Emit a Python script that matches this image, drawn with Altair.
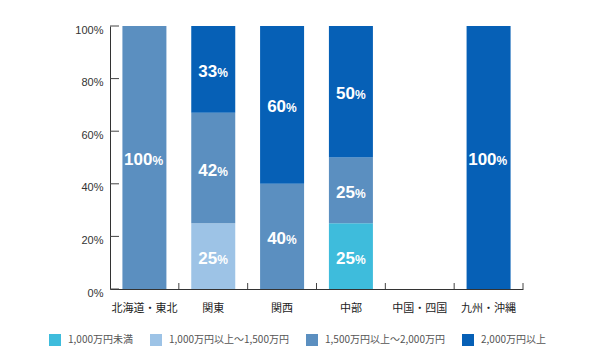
import altair as alt
import pandas as pd

regions = ["北海道・東北", "関東", "関西", "中部", "中国・四国", "九州・沖縄"]
series = ["1,000万円未満", "1,000万円以上～1,500万円", "1,500万円以上～2,000万円", "2,000万円以上"]
colors = ["#3EBCDC", "#9DC3E6", "#5B8FC0", "#0660B6"]

s_under1000 = [0, 0, 0, 25, 0, 0]
s_1000_1500 = [0, 25, 0, 0, 0, 0]
s_1500_2000 = [100, 42, 40, 25, 0, 0]
s_over2000 = [0, 33, 60, 50, 0, 100]

y_ticks = [0, 20, 40, 60, 80, 100]

rows = []
for k, (name, vals) in enumerate(zip(series, [s_under1000, s_1000_1500, s_1500_2000, s_over2000])):
    for r, v in zip(regions, vals):
        if v > 0:
            rows.append({"region": r, "series": name, "order": k, "value": v})
df = pd.DataFrame(rows)

W, H = 413, 263

xenc = alt.X("region:N", sort=regions, title=None,
             scale=alt.Scale(domain=regions, paddingInner=0.36, paddingOuter=0.18),
             axis=alt.Axis(labelAngle=0, ticks=False, labelPadding=13, labelFontSize=11,
                           labelFont="Noto Sans CJK JP", labelColor="#222",
                           domainColor="#333", domainWidth=1))
yscale = alt.Scale(domain=[0, 100], nice=False)

base = alt.Chart(df)

bars = base.mark_bar(size=44).encode(
    x=xenc,
    y=alt.Y("value:Q", stack="zero", scale=yscale, title=None,
            axis=alt.Axis(values=y_ticks, labelExpr="datum.value + '%'", ticks=False,
                          labelPadding=7, labelOffset=4, labelFontSize=11, labelFont="Liberation Sans",
                          labelColor="#333", domainColor="#333", domainWidth=1, grid=False)),
    color=alt.Color("series:N", sort=series,
                    scale=alt.Scale(domain=series, range=colors),
                    legend=alt.Legend(orient="none", legendX=-61, legendY=308, direction="horizontal",
                                      title=None, symbolType="square", symbolSize=144,
                                      symbolStrokeWidth=0, labelOffset=7, columnPadding=17,
                                      labelFontSize=10, labelFont="Noto Sans CJK JP",
                                      labelColor="#555", padding=0)),
    order=alt.Order("order:Q", sort="ascending"),
)

lab = base.transform_stack(
    stack="value", groupby=["region"], sort=[alt.SortField("order", "ascending")], as_=["y0", "y1"]
).transform_calculate(
    mid="(datum.y0 + datum.y1) / 2",
    num="toString(datum.value)",
)


def text_layers(cond, dx_anchor):
    sub = lab.transform_filter(cond)
    num = sub.mark_text(align="right", baseline="alphabetic", dx=dx_anchor, dy=7.5,
                        fontSize=17, fontWeight="bold", font="Liberation Sans", color="white").encode(
        x=alt.X("region:N", sort=regions), y=alt.Y("mid:Q", scale=yscale), text="num:N")
    pct = sub.mark_text(align="left", baseline="alphabetic", dx=dx_anchor, dy=7.5,
                        fontSize=12, fontWeight="bold", font="Liberation Sans", color="white").encode(
        x=alt.X("region:N", sort=regions), y=alt.Y("mid:Q", scale=yscale), text=alt.value("%"))
    return [num, pct]


labels2 = text_layers("datum.value < 100", 4)
labels3 = text_layers("datum.value >= 100", 8)

ytick_df = pd.DataFrame({"v": y_ticks})
yticks = alt.Chart(ytick_df).mark_rule(color="#444").encode(
    y=alt.Y("v:Q", scale=yscale), x=alt.value(0), x2=alt.value(9))

main = alt.layer(bars, *labels2, *labels3, yticks)

xtick_df = pd.DataFrame({"region": regions})
xticks = alt.Chart(xtick_df).mark_rule(color="#444").encode(
    x=alt.X("tick_region:N", sort=regions, bandPosition=1, axis=None,
            scale=alt.Scale(domain=regions, paddingInner=0, paddingOuter=0)),
    y=alt.value(H - 6), y2=alt.value(H)).transform_calculate(tick_region="datum.region")

chart = alt.layer(main, xticks).resolve_scale(x="independent").properties(
    width=W, height=H,
    autosize=alt.AutoSizeParams(type="none"),
    padding={"left": 102, "top": 18, "right": 69, "bottom": 63},
    background="white",
).configure_view(stroke=None)

chart.save("out.html", embed_options={"renderer": "svg", "actions": False})
